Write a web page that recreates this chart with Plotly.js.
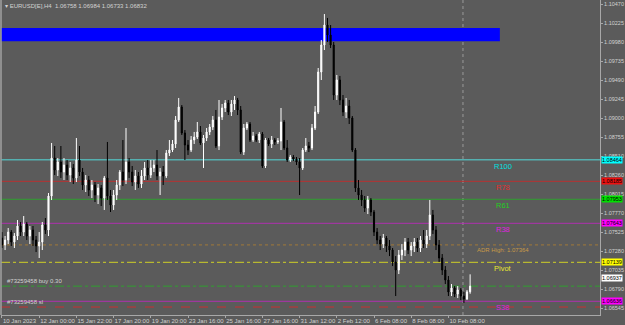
<!DOCTYPE html>
<html><head><meta charset="utf-8">
<script src="https://cdn.plot.ly/plotly-3.0.1.min.js"></script>
<style>html,body{margin:0;padding:0;background:#5b5b5b;}#chart{width:625px;height:325px;}</style>
</head><body><div id="chart"></div>
<script>
// ---- data ----
const symbolTitle = 'EURUSD[E],H4  1.06758 1.06984 1.06733 1.06832';
const openP = [1.07453,1.07363,1.07427,1.07530,1.07401,1.07479,1.07608,1.07530,1.07634,1.07479,1.07556,1.07427,1.07350,1.07401,1.07621,1.07556,1.07995,1.08486,1.08331,1.08434,1.08305,1.08396,1.08266,1.08357,1.08228,1.08460,1.08305,1.08137,1.08202,1.08073,1.08137,1.08008,1.08099,1.07969,1.08228,1.07995,1.07879,1.08008,1.08137,1.08305,1.08202,1.08434,1.08305,1.08176,1.08254,1.08150,1.08254,1.08357,1.08266,1.08357,1.08396,1.08254,1.08305,1.08254,1.08550,1.08589,1.08667,1.08977,1.09144,1.08809,1.08654,1.08589,1.08718,1.08757,1.08822,1.08680,1.08744,1.08822,1.08886,1.08977,1.08641,1.09015,1.09132,1.09196,1.09080,1.09183,1.09235,1.09106,1.08563,1.08873,1.08925,1.08718,1.08770,1.08718,1.08796,1.08383,1.08718,1.08667,1.08718,1.08693,1.08705,1.08951,1.08615,1.08460,1.08499,1.08473,1.08434,1.08357,1.08589,1.08641,1.08615,1.08873,1.09080,1.09596,1.09945,1.10203,1.10074,1.09945,1.09299,1.09493,1.09235,1.09080,1.09157,1.09002,1.08589,1.08099,1.08008,1.07944,1.07840,1.07944,1.07789,1.07530,1.07427,1.07375,1.07453,1.07350,1.07298,1.07143,1.07040,1.07233,1.07298,1.07401,1.07298,1.07350,1.07401,1.07324,1.07427,1.07375,1.07479,1.07750,1.07556,1.07363,1.07195,1.07040,1.06911,1.06756,1.06807,1.06730,1.06782,1.06704,1.06665,1.06758];
const highP = [1.07530,1.07479,1.07582,1.07556,1.07517,1.07685,1.07660,1.07737,1.07660,1.07608,1.07608,1.07479,1.07530,1.07660,1.07711,1.08034,1.08680,1.08641,1.08486,1.08641,1.08486,1.08460,1.08434,1.08408,1.08744,1.08641,1.08357,1.08266,1.08254,1.08202,1.08176,1.08150,1.08137,1.08254,1.08693,1.08073,1.08073,1.08202,1.08331,1.08718,1.08873,1.08486,1.08383,1.08331,1.08305,1.08331,1.08434,1.08460,1.08460,1.08460,1.08589,1.08357,1.08383,1.08589,1.08718,1.08718,1.09028,1.09261,1.09170,1.08847,1.08718,1.08770,1.08822,1.08951,1.08899,1.08783,1.08873,1.08925,1.09028,1.09106,1.09235,1.09183,1.09235,1.09235,1.09235,1.09286,1.09261,1.09157,1.08925,1.08951,1.08951,1.08822,1.08796,1.08822,1.08822,1.08744,1.08744,1.08770,1.08744,1.08744,1.09132,1.08977,1.08718,1.08525,1.08525,1.08499,1.08486,1.08615,1.08744,1.08693,1.08925,1.09157,1.09648,1.10010,1.10345,1.10294,1.10203,1.09984,1.09558,1.09545,1.09299,1.09261,1.09235,1.09028,1.08615,1.08202,1.08073,1.07995,1.07995,1.07969,1.07815,1.07582,1.07479,1.07505,1.07479,1.07427,1.07324,1.07220,1.07298,1.07375,1.07453,1.07453,1.07401,1.07453,1.07453,1.07479,1.07556,1.07556,1.07944,1.07815,1.07608,1.07427,1.07246,1.07091,1.06962,1.06859,1.06833,1.06833,1.06807,1.06756,1.06782,1.06984];
const lowP = [1.07324,1.07298,1.07375,1.07350,1.07324,1.07427,1.07479,1.07479,1.07427,1.07375,1.07350,1.07272,1.07195,1.07298,1.07505,1.07479,1.07944,1.08266,1.08254,1.08228,1.08202,1.08202,1.08176,1.08150,1.08176,1.08254,1.08073,1.08047,1.07995,1.07969,1.07918,1.07892,1.07866,1.07815,1.07944,1.07789,1.07815,1.07944,1.08073,1.08124,1.08150,1.08228,1.08124,1.08073,1.08099,1.08099,1.08202,1.08202,1.08228,1.08305,1.08202,1.08008,1.08137,1.08228,1.08512,1.08563,1.08615,1.08951,1.08783,1.08460,1.08525,1.08563,1.08667,1.08731,1.08654,1.08357,1.08705,1.08783,1.08847,1.08615,1.08589,1.08977,1.09080,1.09041,1.09028,1.09106,1.09041,1.08538,1.08525,1.08847,1.08693,1.08693,1.08693,1.08680,1.08357,1.08357,1.08641,1.08615,1.08654,1.08667,1.08589,1.08589,1.08434,1.08434,1.08447,1.08396,1.08008,1.08331,1.08563,1.08563,1.08589,1.08847,1.09054,1.09493,1.09880,1.09984,1.09906,1.09235,1.09235,1.09170,1.09028,1.09002,1.08925,1.08563,1.08047,1.07944,1.07866,1.07789,1.07763,1.07737,1.07479,1.07375,1.07298,1.07324,1.07272,1.07220,1.07091,1.06704,1.06988,1.07169,1.07220,1.07246,1.07220,1.07272,1.07272,1.07272,1.07324,1.07324,1.07427,1.07505,1.07298,1.07143,1.06975,1.06859,1.06704,1.06704,1.06691,1.06678,1.06652,1.06614,1.06652,1.06733];
const closeP = [1.07363,1.07427,1.07530,1.07401,1.07479,1.07608,1.07530,1.07634,1.07479,1.07556,1.07427,1.07350,1.07401,1.07621,1.07556,1.07995,1.08486,1.08331,1.08434,1.08305,1.08396,1.08266,1.08357,1.08228,1.08460,1.08305,1.08137,1.08202,1.08073,1.08137,1.08008,1.08099,1.07969,1.08228,1.07995,1.07879,1.08008,1.08137,1.08305,1.08202,1.08434,1.08305,1.08176,1.08254,1.08150,1.08254,1.08357,1.08266,1.08357,1.08396,1.08254,1.08305,1.08254,1.08550,1.08589,1.08667,1.08977,1.09144,1.08809,1.08654,1.08589,1.08718,1.08757,1.08822,1.08680,1.08744,1.08822,1.08886,1.08977,1.08641,1.09015,1.09132,1.09196,1.09080,1.09183,1.09235,1.09106,1.08563,1.08873,1.08925,1.08718,1.08770,1.08718,1.08796,1.08383,1.08718,1.08667,1.08718,1.08693,1.08705,1.08951,1.08615,1.08460,1.08499,1.08473,1.08434,1.08357,1.08589,1.08641,1.08615,1.08873,1.09080,1.09596,1.09945,1.10203,1.10074,1.09945,1.09299,1.09493,1.09235,1.09080,1.09157,1.09002,1.08589,1.08099,1.08008,1.07944,1.07840,1.07944,1.07789,1.07530,1.07427,1.07375,1.07453,1.07350,1.07298,1.07143,1.07040,1.07233,1.07298,1.07401,1.07298,1.07350,1.07401,1.07324,1.07427,1.07375,1.07479,1.07750,1.07556,1.07363,1.07195,1.07040,1.06911,1.06756,1.06807,1.06730,1.06782,1.06704,1.06665,1.06758,1.06832];

const timeTickIdx = [0,12,24,36,48,60,72,84,96,108,120,132,144];
const timeTickText = ['10 Jan 2023','12 Jan 00:00','15 Jan 22:00','17 Jan 20:00','19 Jan 20:00','23 Jan 16:00','25 Jan 16:00','27 Jan 16:00','31 Jan 12:00','2 Feb 12:00','6 Feb 08:00','8 Feb 08:00','10 Feb 08:00'];
const priceTicks = [1.10470,1.10225,1.09980,1.09735,1.09490,1.09245,1.09000,1.08755,1.08510,1.08260,1.08015,1.07770,1.07525,1.07280,1.07035,1.06790,1.06545];

const levelNames = ['R100','R78','R61','R38','ADR High: 1.07364','Pivot','S38'];
const levelPrices = [1.08464,1.08185,1.07953,1.07643,1.07364,1.07139,1.06636];
const orderLabels = ['#73259458 buy 0.30','#73259458 sl'];
const orderPrices = [1.06832,1.06562];
const tagPrices = [1.08464,1.08185,1.07953,1.07643,1.07139,1.06937,1.06636];
const zoneTop = 1.10164, zoneBottom = 1.09993, zoneEndIdx = 160.6;
const separatorIdx = 148.7;

// ---- styles ----
const levelStyle = [
  {line:'#55b0b0', w:1.6, dash:'solid', text:'#00e0e0'},
  {line:'#b83030', w:1, dash:'solid', text:'#e03030'},
  {line:'#30a030', w:1, dash:'solid', text:'#22d022'},
  {line:'#b030b0', w:1, dash:'solid', text:'#e020e0'},
  {line:'#a07838', w:1, dash:'dot', text:'#c89a48'},
  {line:'#b8b830', w:1.4, dash:'dashdot', text:'#e8e830'},
  {line:'#b030b0', w:1, dash:'solid', text:'#e020e0'}
];
const orderStyle = [{line:'#30a030', dash:'dashdot'},{line:'#c83030', dash:'dash'}];
const tagColors = ['#00ffff','#ee1010','#00e000','#ff00ff','#ffff00','#ffffff','#ff00ff'];
const FONT = 'Liberation Sans Narrow, Liberation Sans, Arial, sans-serif';
const txt = '#d2d2d2';

const idx = openP.map((_, i) => i);

const trace = {
  type:'candlestick', x: idx, open: openP, high: highP, low: lowP, close: closeP,
  increasing:{line:{color:'#ffffff', width:1}, fillcolor:'#ffffff'},
  decreasing:{line:{color:'#000000', width:1}, fillcolor:'#000000'},
  whiskerwidth: 0, hoverinfo:'skip', showlegend:false
};

const shapes = [];
const annotations = [];
shapes.push({type:'rect', xref:'x', yref:'y', x0:-0.32, x1:zoneEndIdx, y0:zoneBottom, y1:zoneTop, fillcolor:'#0000ff', line:{width:0}, layer:'below'});
shapes.push({type:'line', xref:'x', yref:'paper', x0:separatorIdx, x1:separatorIdx, y0:0, y1:1, line:{color:'#9a9a9a', width:1, dash:'dot'}, layer:'below'});
shapes.push({type:'line', xref:'paper', yref:'paper', x0:0, x1:0, y0:0, y1:1, line:{color:'#a0a0a0', width:1.5}});

levelPrices.forEach((p, k) => {
  const s = levelStyle[k];
  shapes.push({type:'line', xref:'paper', yref:'y', x0:0, x1:1, y0:p, y1:p, line:{color:s.line, width:s.w, dash:s.dash}, layer:'below'});
  annotations.push({xref:'paper', yref:'y', x:0.838, y:p, yanchor:'top', xanchor:'center', yshift:0, text:levelNames[k], showarrow:false, font:{family:FONT, size: k===4 ? 6 : 7.5, color:s.text}});
});
orderPrices.forEach((p, k) => {
  const s = orderStyle[k];
  shapes.push({type:'line', xref:'paper', yref:'y', x0:0, x1:1, y0:p, y1:p, line:{color:s.line, width:1, dash:s.dash}, layer:'below'});
  annotations.push({xref:'paper', yref:'y', x:0, y:p, xanchor:'left', yanchor:'bottom', xshift:4, yshift:0, text:orderLabels[k], showarrow:false, font:{family:FONT, size:6, color:txt}});
});
tagPrices.forEach((p, k) => {
  annotations.push({xref:'paper', yref:'y', x:1, y:p, xanchor:'left', yanchor:'middle', xshift:1, text:p.toFixed(5), showarrow:false, bgcolor:tagColors[k], borderpad:0, font:{family:FONT, size:5.5, color:'#000000'}});
});
annotations.push({xref:'paper', yref:'paper', x:0, y:1, xanchor:'left', yanchor:'top', xshift:2, yshift:-1, text:'▾ ' + symbolTitle, showarrow:false, font:{family:FONT, size:6, color:txt}});

const layout = {
  width:625, height:325,
  margin:{l:1, r:25, t:0, b:10, pad:0},
  paper_bgcolor:'#5b5b5b', plot_bgcolor:'#5b5b5b',
  showlegend:false,
  xaxis:{range:[-0.32, 192.9], showgrid:false, zeroline:false, showline:true, linecolor:'#a8a8a8', linewidth:1,
    tickmode:'array', tickvals:timeTickIdx, ticktext:timeTickText, ticks:'outside', ticklen:2, tickcolor:'#a8a8a8',
    tickangle:0, ticklabelposition:'outside right', tickfont:{family:FONT, size:6, color:txt}, rangeslider:{visible:false}, fixedrange:true, automargin:false},
  yaxis:{side:'right', range:[1.06459, 1.10526], showgrid:false, zeroline:false, showline:true, linecolor:'#a8a8a8', linewidth:1,
    tickmode:'array', tickvals:priceTicks, ticktext:priceTicks.map(v => v.toFixed(5)), ticks:'outside', ticklen:2, tickcolor:'#a8a8a8',
    tickfont:{family:FONT, size:5.5, color:txt}, fixedrange:true, automargin:false},
  shapes: shapes, annotations: annotations,
  boxgap: 0.5
};
Plotly.newPlot('chart', [trace], layout, {staticPlot:true, displayModeBar:false});
</script></body></html>
